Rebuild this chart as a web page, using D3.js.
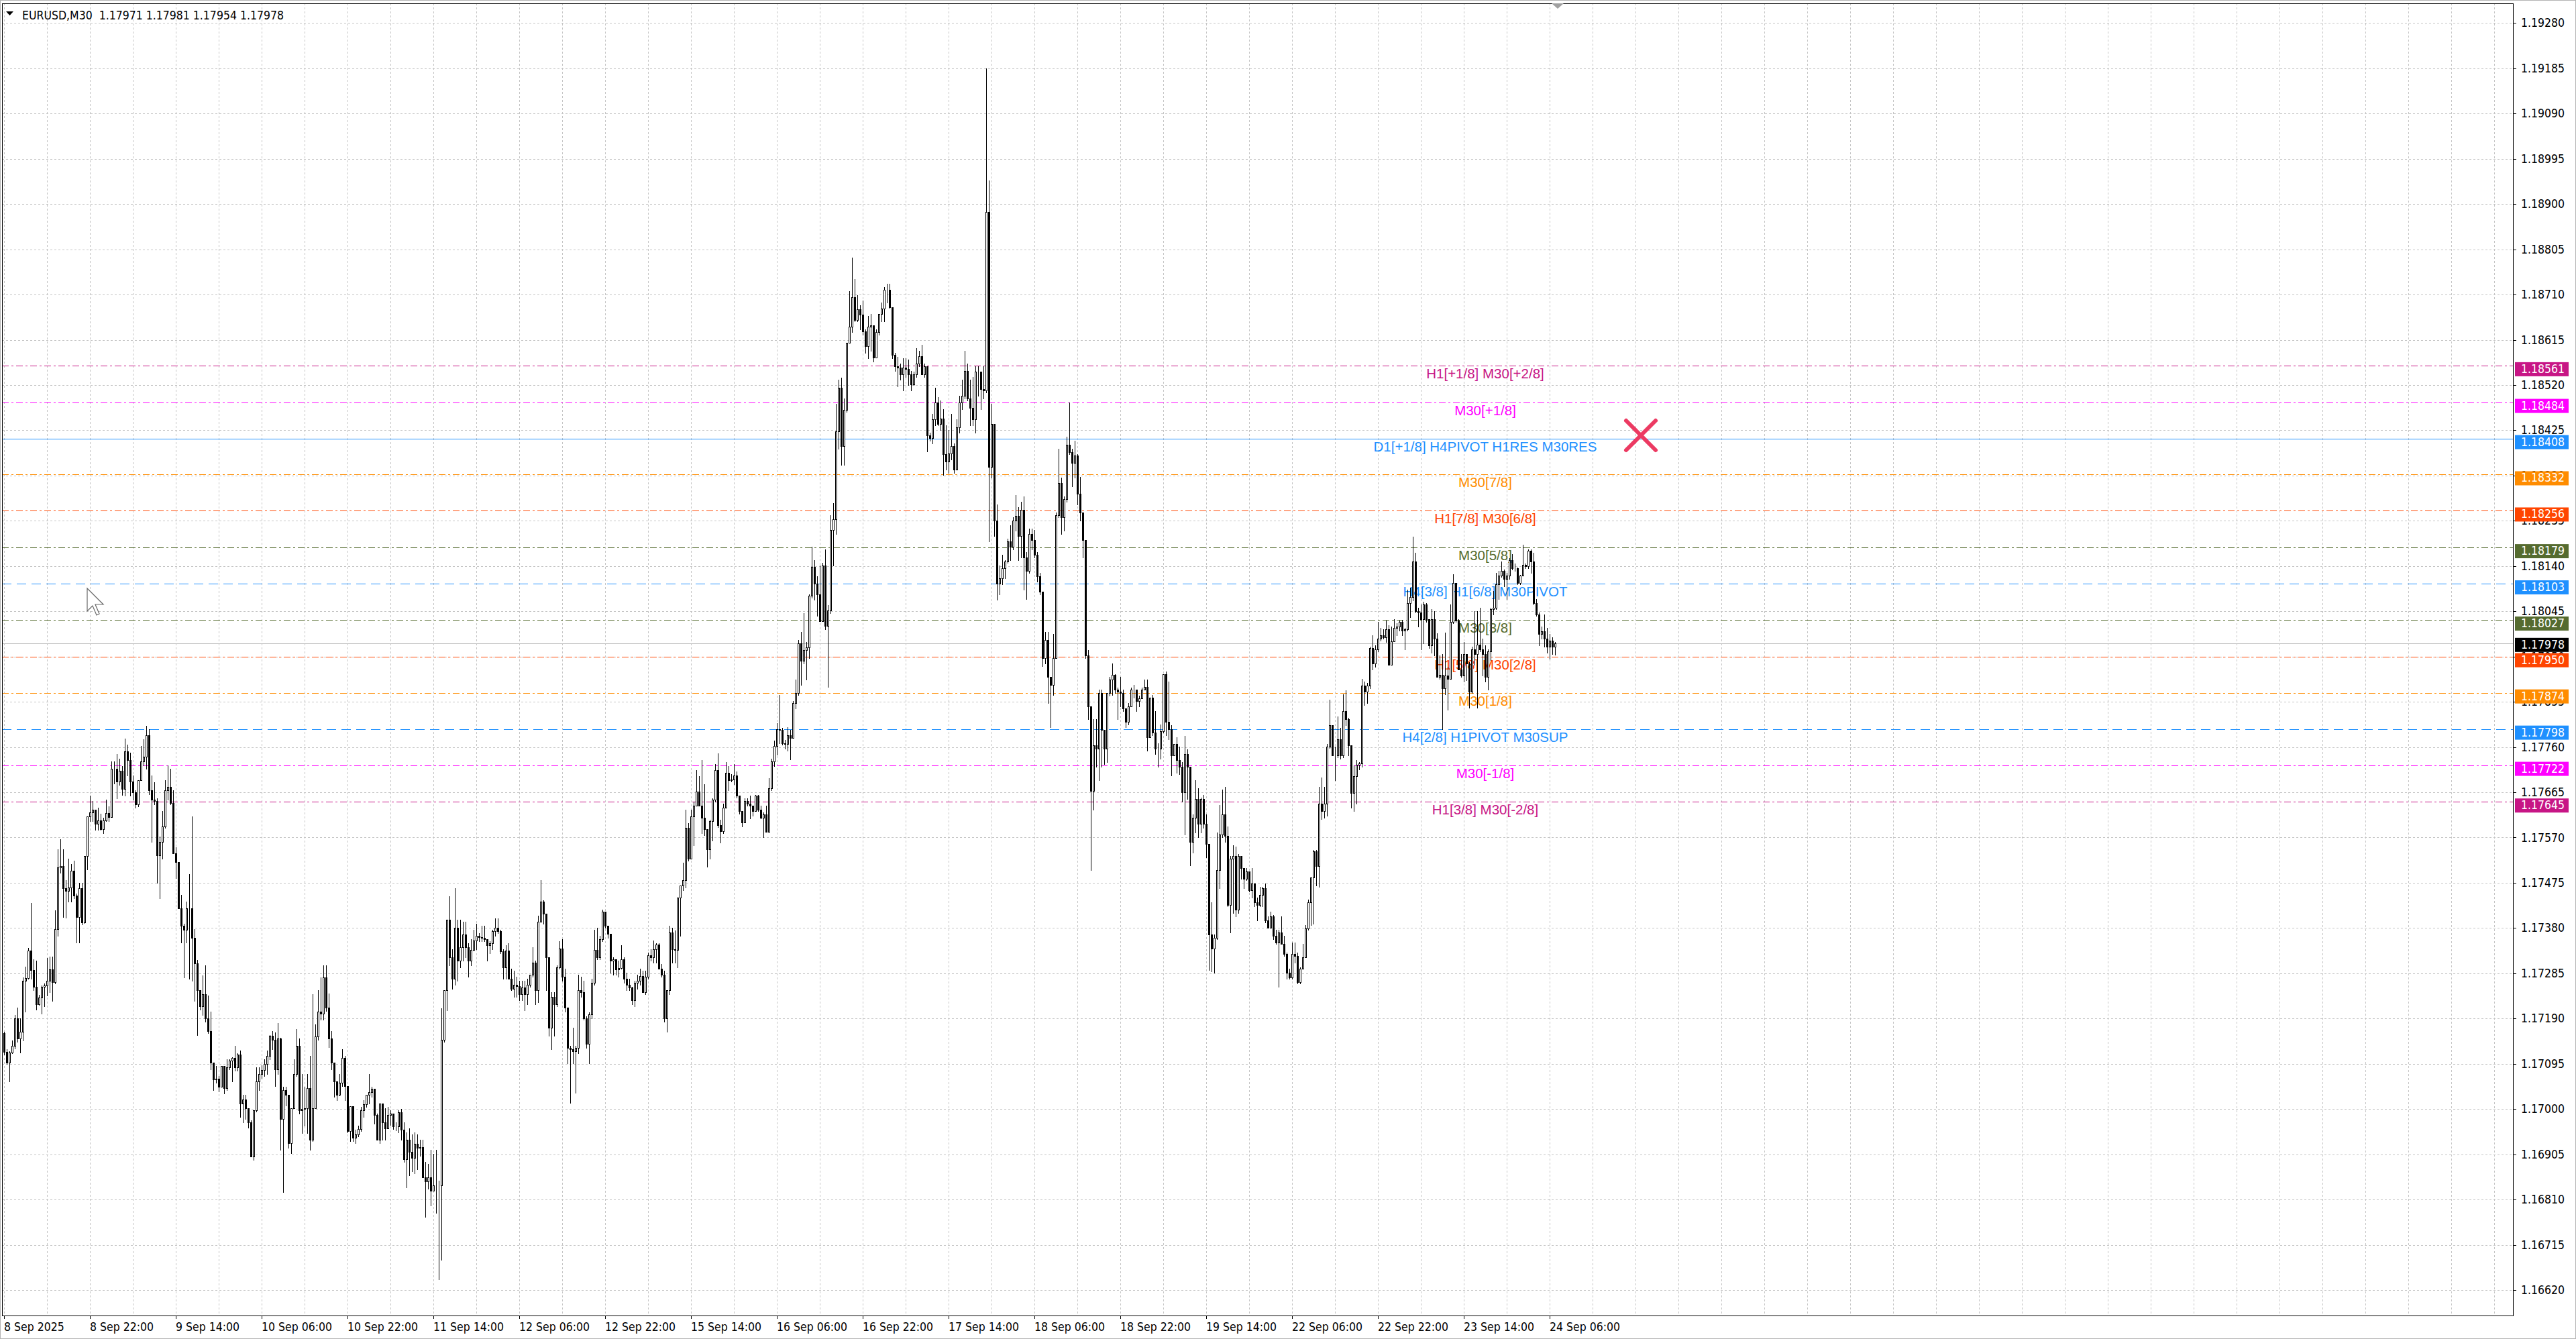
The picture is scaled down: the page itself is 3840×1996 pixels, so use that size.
<!DOCTYPE html>
<html>
<head>
<meta charset="utf-8">
<script src="https://cdn.jsdelivr.net/npm/d3@7"></script>
<style>
  html, body { margin: 0; padding: 0; background: #fff; }
  svg { display: block; }
  .ax { font-family: 'DejaVu Sans Condensed', 'DejaVu Sans', sans-serif; font-stretch: condensed; font-size: 17.5px; }
  .lvl { font-family: 'Liberation Sans', Arial, sans-serif; font-size: 20.5px; }
</style>
</head>
<body>
<svg id="chart"></svg>
<script>
// EURUSD M30 candles, prices kept as points (0.00001) above BASE
const symbol = 'EURUSD,M30';
const lastQuote = ['1.17971', '1.17981', '1.17954', '1.17978'];
const BASE = 1.16;
const POINT = 0.00001;
const firstOpen = 1159;

const closes = [
  1120,1098,1119,1132,1191,1148,1162,1270,1275,1333, 1292,1257,1220,1234,1256,1259,1270,1293,1266,1378,
  1507,1510,1464,1458,1465,1500,1448,1403,1464,1392, 1531,1615,1623,1628,1599,1606,1587,1606,1622,1613,
  1714,1715,1687,1710,1672,1751,1733,1687,1665,1640, 1690,1730,1740,1785,1669,1650,1647,1532,1561,1593,
  1669,1676,1643,1537,1518,1421,1385,1376,1421,1421, 1360,1306,1249,1216,1241,1191,1164,1098,1062,1064,
  1047,1090,1044,1087,1101,1108,1087,1115,1012,1020, 1001,972,900,997,1058,1073,1082,1094,1112,1154,
  1145,1083,1148,979,1040,1030,929,1001,1073,1132, 997,1000,1001,1044,936,1001,1152,1205,1200,1277,
  1213,1148,1098,1058,1030,1055,1107,1048,954,1006, 940,947,958,997,1010,1030,1036,1043,987,936,
  1011,972,960,987,990,964,964,993,956,894, 935,910,898,927,918,920,857,848,857,828,
  840,840,840,1146,1249,1397,1319,1274,1381,1311, 1340,1367,1340,1311,1334,1354,1364,1361,1359,1356,
  1344,1348,1373,1381,1373,1331,1298,1333,1274,1253, 1261,1258,1241,1255,1241,1261,1282,1307,1249,1393,
  1436,1410,1319,1170,1236,1220,1298,1337,1278,1213, 1129,1125,1121,1129,1249,1246,1191,1137,1199,1265,
  1334,1319,1356,1414,1385,1368,1311,1314,1293,1296, 1315,1273,1261,1255,1228,1265,1269,1279,1245,1278,
  1323,1318,1336,1345,1294,1282,1191,1249,1370,1335, 1334,1444,1469,1480,1590,1526,1615,1637,1666,1637,
  1612,1587,1546,1604,1649,1711,1596,1583,1633,1706, 1691,1692,1700,1658,1625,1602,1647,1641,1637,1626,
  1658,1629,1612,1619,1582,1673,1730,1762,1798,1796, 1768,1766,1785,1779,1852,1874,1978,1941,1963,1969,
  2078,2138,2103,2080,2024,2141,2014,2047,2216,2238, 2423,2515,2392,2468,2609,2643,2704,2657,2679,2668,
  2632,2602,2643,2645,2578,2631,2670,2680,2720,2720, 2684,2584,2559,2557,2543,2557,2554,2543,2521,2543,
  2565,2581,2543,2559,2414,2409,2448,2484,2439,2450, 2375,2359,2376,2392,2342,2431,2484,2498,2550,2492,
  2472,2448,2548,2548,2512,2509,2884,2348,2439,2236, 2103,2114,2136,2149,2192,2181,2236,2245,2203,2258,
  2158,2130,2208,2194,2164,2119,2086,1947,1985,1907, 1891,1947,2247,2314,2242,2281,2394,2379,2357,2372,
  2292,2253,2194,1952,1846,1668,1763,1757,1874,1796, 1757,1874,1902,1911,1880,1877,1874,1841,1813,1846,
  1880,1880,1856,1862,1881,1886,1780,1863,1791,1757, 1757,1793,1913,1813,1797,1742,1767,1732,1719,1665,
  1745,1719,1561,1612,1651,1599,1651,1599,1557,1367, 1337,1360,1502,1577,1619,1574,1428,1525,1531,1418,
  1531,1506,1483,1499,1460,1473,1434,1428,1450,1463, 1396,1380,1404,1363,1350,1370,1347,1325,1286,1276,
  1325,1321,1266,1295,1318,1379,1434,1486,1541,1510, 1641,1625,1641,1761,1806,1742,1742,1777,1742,1835,
  1819,1764,1664,1699,1723,1725,1889,1877,1889,1968, 1936,1965,1987,1994,1991,2007,1932,1982,2010,2013,
  2023,2004,2007,2062,2075,2149,2046,2042,2029,2059, 2029,1974,2029,1987,1907,1911,1884,1910,1903,2023,
  2105,2026,1923,1910,1955,1936,1877,1965,1955,1975, 1965,1955,1907,1961,2049,2052,2101,2120,2130,2113,
  2120,2152,2136,2136,2104,2120,2143,2140,2172,2149, 2062,2039,1997,2003,1987,1971,1984,1971,1978
];

const highs = [
  1162,1126,1121,1144,1198,1213,1191,1277,1299,1338, 1432,1315,1311,1240,1260,1263,1317,1320,1320,1417,
  1545,1566,1546,1481,1525,1514,1521,1453,1475,1475, 1531,1615,1658,1647,1625,1633,1620,1611,1649,1636,
  1730,1730,1745,1735,1720,1778,1765,1748,1700,1669, 1690,1762,1776,1805,1798,1700,1686,1652,1572,1626,
  1690,1722,1715,1669,1550,1518,1450,1389,1435,1493, 1615,1378,1313,1249,1281,1302,1238,1205,1098,1090,
  1069,1090,1090,1105,1105,1109,1132,1117,1123,1030, 1030,1001,976,997,1087,1087,1092,1105,1123,1155,
  1164,1161,1180,1150,1047,1047,1030,1001,1105,1168, 1148,1073,1047,1073,1112,1241,1178,1249,1277,1302,
  1302,1243,1164,1098,1058,1073,1126,1112,1048,1006, 1001,957,965,1004,1019,1030,1073,1047,1032,990,
  1011,1011,1001,1004,997,990,972,997,1000,972, 951,960,947,951,947,935,935,889,885,914,
  906,914,850,1212,1249,1397,1447,1336,1464,1397, 1397,1393,1393,1348,1356,1377,1389,1369,1385,1385,
  1352,1352,1377,1400,1400,1377,1336,1344,1348,1294, 1290,1278,1269,1269,1269,1274,1282,1340,1311,1406,
  1480,1439,1410,1319,1245,1245,1302,1352,1356,1294, 1213,1133,1170,1133,1282,1278,1269,1195,1203,1274,
  1377,1381,1364,1418,1414,1377,1368,1319,1307,1311, 1344,1319,1286,1274,1257,1269,1282,1294,1290,1290,
  1329,1336,1354,1348,1348,1304,1290,1249,1385,1381, 1375,1444,1469,1517,1629,1600,1629,1645,1711,1699,
  1732,1682,1587,1608,1653,1724,1747,1608,1641,1728, 1720,1703,1724,1709,1658,1625,1653,1653,1658,1637,
  1659,1659,1637,1623,1637,1695,1736,1773,1810,1869, 1800,1775,1801,1796,1857,1902,1985,2002,2041,1980,
  2080,2180,2152,2119,2141,2147,2175,2058,2247,2272, 2481,2531,2535,2492,2609,2717,2787,2743,2709,2687,
  2698,2637,2665,2670,2615,2637,2670,2693,2726,2732, 2732,2684,2587,2579,2565,2576,2576,2573,2550,2548,
  2598,2592,2604,2565,2559,2420,2459,2514,2494,2487, 2470,2436,2425,2459,2397,2448,2498,2531,2592,2565,
  2531,2537,2559,2559,2537,2559,3185,2949,2481,2439, 2270,2141,2164,2152,2197,2225,2242,2289,2264,2275,
  2286,2169,2219,2219,2216,2169,2125,2086,2002,2002, 1908,1997,2253,2386,2325,2286,2412,2484,2386,2403,
  2375,2327,2253,2158,1963,1846,1818,1818,1880,1880, 1796,1874,1907,1935,1913,1885,1908,1880,1841,1852,
  1885,1891,1880,1868,1885,1902,1902,1863,1869,1835, 1768,1807,1913,1919,1897,1806,1767,1780,1761,1729,
  1784,1755,1709,1619,1690,1674,1654,1659,1619,1557, 1434,1366,1580,1638,1671,1677,1593,1531,1554,1551,
  1535,1518,1506,1506,1499,1506,1470,1444,1467,1467, 1473,1405,1415,1408,1376,1376,1405,1363,1328,1295,
  1350,1350,1328,1298,1347,1386,1440,1486,1544,1544, 1677,1696,1677,1767,1859,1806,1761,1824,1800,1871,
  1879,1822,1764,1722,1732,1729,1903,1897,1894,1971, 1995,1974,2023,2010,2007,2026,2016,2013,2029,2020,
  2026,2027,2010,2090,2094,2202,2168,2052,2059,2065, 2062,2029,2049,2046,1999,1952,1955,2000,1929,2059,
  2123,2105,2029,1955,1981,1936,1939,1971,2046,2046, 2052,1987,1974,1965,2052,2088,2126,2130,2149,2133,
  2126,2156,2165,2146,2137,2122,2185,2146,2175,2175, 2168,2071,2042,2013,2039,2010,1997,1990,1981
];

const lows = [
  1115,1094,1058,1117,1127,1141,1119,1144,1205,1274, 1274,1250,1209,1218,1200,1216,1238,1245,1227,1263,
  1363,1496,1403,1402,1435,1435,1442,1349,1349,1388, 1390,1503,1604,1604,1586,1586,1586,1579,1604,1604,
  1620,1683,1652,1680,1660,1658,1700,1658,1650,1633, 1636,1690,1722,1715,1661,1561,1640,1475,1442,1525,
  1590,1650,1640,1537,1485,1421,1349,1277,1349,1274, 1270,1227,1155,1209,1198,1184,1159,1083,1040,1055,
  1037,1051,1033,1040,1083,1058,1080,1080,983,972, 979,961,900,893,994,1040,1065,1069,1073,1105,
  1126,1048,1073,915,825,1008,919,907,1001,1069, 990,950,965,950,914,933,1001,1145,1188,1188,
  1206,1130,1083,1026,1019,1029,1048,1019,951,933, 933,929,943,954,983,1004,1012,1026,969,936,
  929,936,936,960,966,958,955,951,935,889, 836,861,869,865,873,902,857,774,832,798,
  828,782,642,683,1141,1207,1302,1253,1261,1269, 1298,1311,1319,1278,1302,1332,1336,1352,1352,1352,
  1311,1327,1336,1364,1369,1327,1274,1274,1274,1249, 1236,1236,1228,1228,1207,1220,1257,1278,1220,1224,
  1393,1389,1249,1154,1125,1154,1216,1294,1269,1205, 1096,1013,1096,1034,1117,1236,1187,1129,1096,1191,
  1261,1315,1315,1352,1381,1360,1286,1282,1282,1278, 1294,1265,1249,1249,1220,1216,1253,1261,1245,1241,
  1274,1311,1307,1307,1294,1278,1183,1162,1241,1307, 1307,1298,1364,1459,1465,1521,1526,1554,1637,1637,
  1579,1575,1509,1526,1563,1645,1592,1559,1579,1633, 1670,1687,1682,1654,1620,1593,1629,1637,1610,1616,
  1626,1625,1610,1571,1582,1582,1670,1720,1744,1768, 1765,1756,1752,1734,1779,1841,1869,1891,1936,1902,
  1947,2074,2069,2036,2024,2024,2008,1886,2041,2141, 2208,2386,2353,2353,2464,2609,2631,2654,2654,2637,
  2626,2587,2576,2592,2570,2598,2626,2654,2654,2693, 2682,2576,2550,2517,2531,2509,2537,2520,2509,2520,
  2537,2559,2543,2537,2381,2403,2398,2436,2436,2425, 2331,2342,2336,2364,2336,2342,2420,2470,2492,2487,
  2436,2436,2420,2498,2470,2492,2504,2192,2325,2203, 2069,2080,2102,2114,2147,2152,2175,2214,2153,2158,
  2091,2071,2125,2175,2158,2108,2080,1930,1936,1852, 1802,1869,1947,2242,2208,2214,2275,2375,2308,2325,
  2270,2236,2158,1947,1818,1501,1629,1718,1690,1718, 1724,1729,1868,1869,1874,1818,1846,1835,1802,1807,
  1852,1863,1835,1846,1863,1880,1752,1780,1785,1746, 1718,1735,1790,1785,1777,1700,1742,1706,1703,1645,
  1577,1651,1512,1538,1580,1570,1580,1590,1528,1292, 1289,1286,1357,1464,1570,1561,1425,1370,1412,1405,
  1412,1483,1464,1480,1457,1444,1425,1396,1425,1425, 1392,1380,1383,1357,1347,1257,1347,1321,1273,1273,
  1273,1308,1263,1263,1295,1337,1376,1386,1389,1470, 1467,1609,1612,1616,1758,1742,1690,1738,1735,1738,
  1806,1742,1632,1625,1641,1713,1719,1848,1852,1884, 1923,1929,1961,1984,1987,1981,1932,1965,1984,1994,
  2004,1994,1965,2004,2033,2068,2042,2013,1965,1978, 2023,1968,1958,1952,1907,1903,1797,1871,1839,1919,
  2020,2023,1923,1907,1897,1900,1842,1874,1932,1842, 1961,1910,1897,1881,1942,2039,2049,2071,2117,2097,
  2071,2113,2133,2130,2101,2101,2120,2136,2136,2126, 2059,2036,1974,1987,1971,1958,1945,1955,1954
];

// one time label every 32 bars, starting at the first bar
const timeLabels = [
  '8 Sep 2025', '8 Sep 22:00', '9 Sep 14:00', '10 Sep 06:00', '10 Sep 22:00', '11 Sep 14:00',
  '12 Sep 06:00', '12 Sep 22:00', '15 Sep 14:00', '16 Sep 06:00', '16 Sep 22:00', '17 Sep 14:00',
  '18 Sep 06:00', '18 Sep 22:00', '19 Sep 14:00', '22 Sep 06:00', '22 Sep 22:00', '23 Sep 14:00',
  '24 Sep 06:00'
];
const barsPerLabel = 32;

const priceTicks = [
  1.19280, 1.19185, 1.19090, 1.18995, 1.18900, 1.18805, 1.18710, 1.18615, 1.18520, 1.18425,
  1.18330, 1.18235, 1.18140, 1.18045, 1.17950, 1.17855, 1.17760, 1.17665, 1.17570, 1.17475,
  1.17380, 1.17285, 1.17190, 1.17095, 1.17000, 1.16905, 1.16810, 1.16715, 1.16620
];

// Murrey-math style levels drawn by the indicator
const levelPrices = [1.18561, 1.18484, 1.18408, 1.18332, 1.18256, 1.18179, 1.18103,
                     1.18027, 1.17950, 1.17874, 1.17798, 1.17722, 1.17645];
const levelNames = [
  'H1[+1/8] M30[+2/8]', 'M30[+1/8]', 'D1[+1/8] H4PIVOT H1RES M30RES', 'M30[7/8]',
  'H1[7/8] M30[6/8]', 'M30[5/8]', 'H4[3/8] H1[6/8] M30PIVOT', 'M30[3/8]',
  'H1[5/8] M30[2/8]', 'M30[1/8]', 'H4[2/8] H1PIVOT M30SUP', 'M30[-1/8]', 'H1[3/8] M30[-2/8]'
];
const levelColors = ['#C71585', '#FF00FF', '#1E90FF', '#FF8C00', '#FF4500', '#556B2F', '#1E90FF',
                     '#556B2F', '#FF4500', '#FF8C00', '#1E90FF', '#FF00FF', '#C71585'];
const levelStyles = ['dashdot', 'dashdot', 'solid', 'dashdot', 'dashdot', 'dashdot', 'dash',
                     'dashdot', 'dashdot', 'dashdot', 'dash', 'dashdot', 'dashdot'];
const bidPrice = 1.17978;

// ---- layout ----
const W = 3840, H = 1996;
const plot = { left: 3, top: 5, right: 3746, bottom: 1961 };
const dashes = { solid: null, dash: '14,8', dashdot: '10,4,3,4' };

const svg = d3.select('#chart').attr('width', W).attr('height', H);
svg.append('rect').attr('width', W).attr('height', H).attr('fill', '#fff');

const n = closes.length;
const x = d3.scaleLinear().domain([0, n - 1]).range([6, 6 + 4 * (n - 1)]);
const y = d3.scaleLinear().domain([1.16620, 1.19280]).range([1923, 34.4]);
const fmt = d3.format('.5f');

const bars = closes.map(function (c, i) {
  const o = i === 0 ? firstOpen : closes[i - 1];
  return {
    i: i,
    o: BASE + o * POINT,
    c: BASE + c * POINT,
    h: BASE + Math.max(highs[i], o, c) * POINT,
    l: BASE + Math.min(lows[i], o, c) * POINT
  };
});

// grid
const grid = svg.append('g')
  .attr('stroke', '#c4c4c4')
  .attr('stroke-dasharray', '3,3')
  .attr('shape-rendering', 'crispEdges');

const gridBars = d3.range(0, Math.floor((plot.right - 6) / 4) + 1, 16);
grid.selectAll('line.v')
  .data(gridBars)
  .join('line')
  .attr('class', 'v')
  .attr('x1', function (d) { return x(d) + 0.5; })
  .attr('x2', function (d) { return x(d) + 0.5; })
  .attr('y1', plot.top)
  .attr('y2', plot.bottom);

grid.selectAll('line.h')
  .data(priceTicks)
  .join('line')
  .attr('class', 'h')
  .attr('x1', plot.left)
  .attr('x2', plot.right)
  .attr('y1', function (d) { return Math.round(y(d)) + 0.5; })
  .attr('y2', function (d) { return Math.round(y(d)) + 0.5; });

// bid line
svg.append('line')
  .attr('x1', plot.left).attr('x2', plot.right)
  .attr('y1', Math.round(y(bidPrice)) + 0.5).attr('y2', Math.round(y(bidPrice)) + 0.5)
  .attr('stroke', '#c0c0c0')
  .attr('shape-rendering', 'crispEdges');

// level lines and their names
const levels = levelPrices.map(function (p, i) {
  return { p: p, name: levelNames[i], color: levelColors[i], style: levelStyles[i] };
});

svg.append('g')
  .attr('shape-rendering', 'crispEdges')
  .selectAll('line')
  .data(levels)
  .join('line')
  .attr('x1', plot.left)
  .attr('x2', plot.right)
  .attr('y1', function (d) { return Math.round(y(d.p)) + 0.5; })
  .attr('y2', function (d) { return Math.round(y(d.p)) + 0.5; })
  .attr('stroke', function (d) { return d.color; })
  .attr('stroke-dasharray', function (d) { return dashes[d.style]; });

svg.append('g')
  .attr('class', 'lvl')
  .selectAll('text')
  .data(levels)
  .join('text')
  .attr('x', 2214)
  .attr('y', function (d) { return y(d.p) + 19; })
  .attr('text-anchor', 'middle')
  .attr('fill', function (d) { return d.color; })
  .text(function (d) { return d.name; });

// candles
const cg = svg.append('g').attr('shape-rendering', 'crispEdges');

cg.selectAll('line')
  .data(bars)
  .join('line')
  .attr('x1', function (d) { return x(d.i) + 0.5; })
  .attr('x2', function (d) { return x(d.i) + 0.5; })
  .attr('y1', function (d) { return Math.round(y(d.h)); })
  .attr('y2', function (d) { return Math.round(y(d.l)) + 1; })
  .attr('stroke', '#000');

cg.selectAll('rect')
  .data(bars)
  .join('rect')
  .attr('x', function (d) { return x(d.i) - 0.5; })
  .attr('y', function (d) { return Math.round(Math.min(y(d.o), y(d.c))) + 0.5; })
  .attr('width', 2)
  .attr('height', function (d) {
    return Math.round(Math.max(y(d.o), y(d.c))) - Math.round(Math.min(y(d.o), y(d.c)));
  })
  .attr('fill', function (d) { return d.c >= d.o ? '#fff' : '#000'; })
  .attr('stroke', '#000');

// window edge and chart frame
svg.append('rect')
  .attr('x', 0.5).attr('y', 0.5).attr('width', W - 1).attr('height', H - 1)
  .attr('fill', 'none').attr('stroke', '#b4b4b4');
svg.append('rect')
  .attr('x', plot.left + 0.5).attr('y', plot.top + 0.5)
  .attr('width', plot.right - plot.left).attr('height', plot.bottom - plot.top)
  .attr('fill', 'none').attr('stroke', '#000')
  .attr('shape-rendering', 'crispEdges');

// time axis
const tAxis = svg.append('g').attr('class', 'ax');
tAxis.selectAll('line')
  .data(timeLabels)
  .join('line')
  .attr('x1', function (d, i) { return x(i * barsPerLabel) + 0.5; })
  .attr('x2', function (d, i) { return x(i * barsPerLabel) + 0.5; })
  .attr('y1', plot.bottom)
  .attr('y2', plot.bottom + 5)
  .attr('stroke', '#000')
  .attr('shape-rendering', 'crispEdges');
tAxis.selectAll('text')
  .data(timeLabels)
  .join('text')
  .attr('x', function (d, i) { return x(i * barsPerLabel); })
  .attr('y', 1984)
  .attr('fill', '#000')
  .text(function (d) { return d; });

// price axis
const pAxis = svg.append('g').attr('class', 'ax');
pAxis.selectAll('line')
  .data(priceTicks)
  .join('line')
  .attr('x1', plot.right)
  .attr('x2', plot.right + 5)
  .attr('y1', function (d) { return Math.round(y(d)) + 0.5; })
  .attr('y2', function (d) { return Math.round(y(d)) + 0.5; })
  .attr('stroke', '#000')
  .attr('shape-rendering', 'crispEdges');
pAxis.selectAll('text')
  .data(priceTicks)
  .join('text')
  .attr('x', 3758)
  .attr('y', function (d) { return y(d) + 6; })
  .attr('fill', '#000')
  .text(function (d) { return fmt(d); });

// coloured price tags for levels (drawn a little below their line) and the bid
const tags = levels.map(function (d) { return { p: d.p, color: d.color, shift: 5 }; });
tags.splice(8, 0, { p: bidPrice, color: '#000', shift: 2 });

const tg = pAxis.selectAll('g.tag')
  .data(tags)
  .join('g')
  .attr('class', 'tag')
  .attr('transform', function (d) { return 'translate(0,' + (y(d.p) + d.shift) + ')'; });
tg.append('rect')
  .attr('x', 3749).attr('y', -10)
  .attr('width', 80).attr('height', 21)
  .attr('fill', function (d) { return d.color; });
tg.append('text')
  .attr('x', 3758).attr('y', 6)
  .attr('fill', '#fff')
  .text(function (d) { return fmt(d.p); });

// chart-shift marker
svg.append('path')
  .attr('d', 'M2313,5 L2331,5 L2322,13 Z')
  .attr('fill', '#a0a0a0');

// red cross object
const cross = svg.append('g')
  .attr('stroke', '#EC3A62')
  .attr('stroke-width', 6)
  .attr('stroke-linecap', 'round');
cross.append('line').attr('x1', 2424).attr('y1', 627).attr('x2', 2468).attr('y2', 671);
cross.append('line').attr('x1', 2468).attr('y1', 627).attr('x2', 2424).attr('y2', 671);

// mouse pointer left on the chart
svg.append('path')
  .attr('d', 'M0,0 L0,17 L4,13 L7,20 L9,19 L6,12 L12,12 Z')
  .attr('transform', 'translate(130,877) scale(2)')
  .attr('fill', '#fff')
  .attr('stroke', '#666')
  .attr('stroke-width', 0.6);

// header
svg.append('path')
  .attr('d', 'M9,17 L20,17 L14.5,23 Z')
  .attr('fill', '#000');
svg.append('text')
  .attr('class', 'ax')
  .attr('x', 33)
  .attr('y', 29)
  .attr('fill', '#000')
  .style('white-space', 'pre')
  .text(symbol + '  ' + lastQuote.join(' '));
</script>
</body>
</html>
